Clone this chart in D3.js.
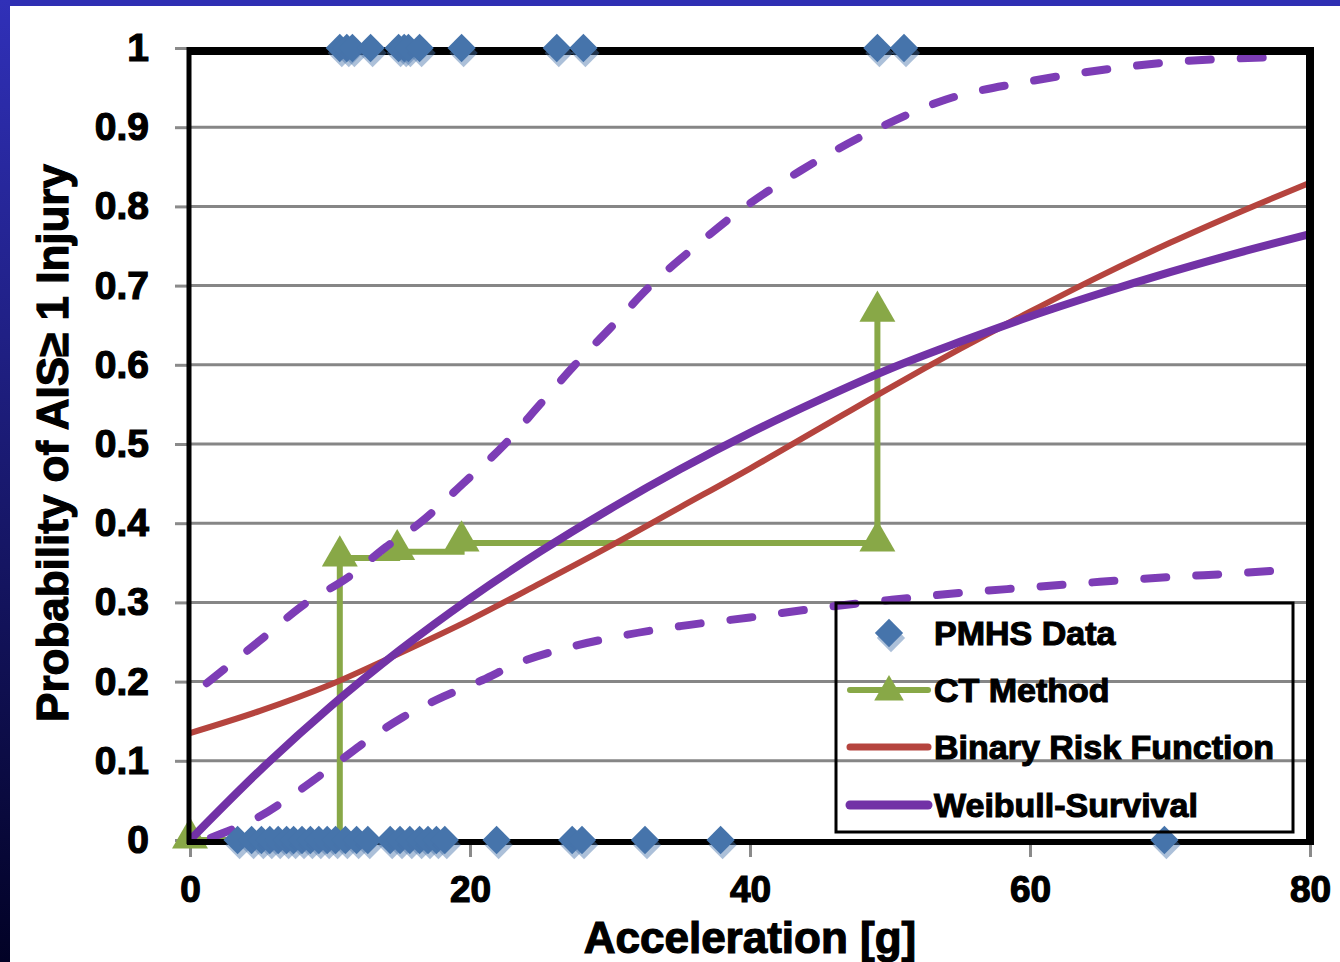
<!DOCTYPE html>
<html>
<head>
<meta charset="utf-8">
<script src="https://cdn.jsdelivr.net/npm/d3@7"></script>
<style>
  body { margin: 0; background: #fff; }
  #chart svg { display: block; }
  #chart text { font-family: "Liberation Sans", Arial, sans-serif; font-weight: bold; fill: #000; }
</style>
</head>
<body>
<div id="chart"></div>
<script>
let accelTicks = [0, 20, 40, 60, 80]
let probTicks = [0, 0.1, 0.2, 0.3, 0.4, 0.5, 0.6, 0.7, 0.8, 0.9, 1]

// PMHS tests: injured ones sit at 1, uninjured at 0
let pmhsInjured = [10.7, 11.2, 11.6, 12.9, 14.9, 15.3, 15.6, 16.4, 19.4, 26.2, 28.1, 49.1, 51.0]
let pmhsUninjured = [3.4, 4.4, 5.1, 5.7, 6.3, 6.9, 7.4, 8.0, 8.6, 9.2, 9.8, 10.4, 11.1, 11.9, 12.7,
  14.3, 15.0, 15.7, 16.4, 17.0, 17.6, 18.2, 21.9, 27.3, 28.0, 32.5, 37.9, 69.6]

// CT method (step curve)
let ctAccel = [0, 10.7, 14.8, 19.4, 49.1, 49.1]
let ctProb = [0, 0.356, 0.364, 0.375, 0.375, 0.665]

// fitted curves, read every 5 g
let fitAccel = [0, 5, 10, 15, 20, 25, 30, 35, 40, 45, 50, 55, 60, 65, 70, 75, 80]
let binaryProb = [0.135, 0.163, 0.196, 0.236, 0.278, 0.324, 0.371, 0.42, 0.469, 0.52, 0.571,
  0.62, 0.667, 0.712, 0.754, 0.793, 0.83]
let weibullProb = [0, 0.088, 0.168, 0.24, 0.305, 0.364, 0.418, 0.468, 0.514, 0.556, 0.595,
  0.629, 0.661, 0.69, 0.717, 0.742, 0.765]

// Weibull confidence bounds
let upperAccel = [1.2, 5, 8.2, 11.4, 14, 16.4, 19.5, 22.5, 25, 27.5, 30, 32.9, 36, 39.3, 43.6,
  49.3, 54, 60, 65, 70, 76.8]
let upperProb = [0.198, 0.252, 0.298, 0.333, 0.37, 0.4, 0.45, 0.5, 0.55, 0.6, 0.646, 0.7, 0.748,
  0.795, 0.845, 0.9, 0.935, 0.958, 0.972, 0.982, 0.988]
let lowerAccel = [1.5, 5, 8, 10.7, 13, 15.2, 17.6, 20.9, 23.4, 27, 30, 35, 40, 45, 50, 55, 60,
  65, 70, 75, 78.2]
let lowerProb = [0.003, 0.03, 0.065, 0.1, 0.13, 0.155, 0.177, 0.202, 0.223, 0.243, 0.255, 0.27,
  0.281, 0.293, 0.303, 0.312, 0.319, 0.326, 0.332, 0.337, 0.341]

let legendNames = ['PMHS Data', 'CT Method', 'Binary Risk Function', 'Weibull-Survival']

class RiskChart {
  constructor (container, width = 1340, height = 962) {
    this.container = container
    this.width = width
    this.height = height
    this.colors = {
      pmhs: '#4674ab',
      ct: '#88a847',
      binary: '#b5443e',
      weibull: '#7232a6',
      bound: '#7d3db6'
    }
    this.x = d3.scaleLinear().domain([0, 80]).range([190, 1310])
    this.y = d3.scaleLinear().domain([0, 1]).range([840, 48])
  }
  draw () {
    let container = d3.select(this.container)
    container.selectAll('svg').remove()
    this.svg = container.append('svg')
      .attr('width', this.width)
      .attr('height', this.height)
    this.drawBackground()
    this.drawGrid()
    this.drawCT()
    this.drawCurves()
    this.drawFrame()
    this.drawPoints()
    this.drawLegend()
    this.drawTitles()
  }
  drawBackground () {
    let svg = this.svg
    let grad = svg.append('defs').append('linearGradient')
      .attr('id', 'side').attr('x1', 0).attr('x2', 0).attr('y1', 0).attr('y2', 1)
    grad.append('stop').attr('offset', 0).attr('stop-color', '#3030b8')
    grad.append('stop').attr('offset', 1).attr('stop-color', '#020226')
    svg.append('rect').attr('width', this.width).attr('height', this.height).attr('fill', '#fff')
    svg.append('rect').attr('width', this.width).attr('height', 6).attr('fill', '#2f2fb3')
    svg.append('rect').attr('width', 10).attr('height', this.height).attr('fill', 'url(#side)')
  }
  drawGrid () {
    let x = this.x, y = this.y
    this.svg.append('g').selectAll('line')
      .data(probTicks.filter(d => d > 0 && d < 1))
      .enter().append('line')
      .attr('x1', x(0)).attr('x2', x(80))
      .attr('y1', d => y(d)).attr('y2', d => y(d))
      .attr('stroke', '#868686').attr('stroke-width', 3)

    let yAxis = d3.axisLeft(y).tickValues(probTicks).tickSize(14).tickPadding(26)
      .tickFormat(d3.format('.1~f'))
    let gy = this.svg.append('g').attr('transform', `translate(${x(0) - 1},0)`).call(yAxis)
    gy.select('.domain').remove()
    gy.selectAll('.tick line').attr('stroke', '#8a8a8a').attr('stroke-width', 3)
    gy.selectAll('.tick text').style('font-size', '39px').attr('stroke', '#000').attr('stroke-width', 1.2)

    let xAxis = d3.axisBottom(x).tickValues(accelTicks).tickSize(16).tickPadding(19)
    let gx = this.svg.append('g').attr('transform', `translate(0,${y(0) + 1})`).call(xAxis)
    gx.select('.domain').remove()
    gx.selectAll('.tick line').attr('stroke', '#8a8a8a').attr('stroke-width', 3)
    gx.selectAll('.tick text').style('font-size', '37px').attr('stroke', '#000').attr('stroke-width', 1.2)
  }
  drawCT () {
    let x = this.x, y = this.y
    let pts = ctAccel.map((a, i) => [a, ctProb[i]])
    let line = d3.line().x(d => x(d[0])).y(d => y(d[1])).curve(d3.curveStepAfter)
    this.svg.append('path').datum(pts)
      .attr('d', line)
      .attr('fill', 'none').attr('stroke', this.colors.ct).attr('stroke-width', 6)
    let tri = d3.symbol(d3.symbolTriangle, 560)
    this.svg.append('g').selectAll('path')
      .data(pts).enter().append('path')
      .attr('d', tri)
      .attr('transform', d => `translate(${x(d[0])},${y(d[1]) - 2})`)
      .attr('fill', this.colors.ct)
  }
  drawCurves () {
    let x = this.x, y = this.y
    let line = d3.line().x(d => x(d[0])).y(d => y(d[1])).curve(d3.curveMonotoneX)
    let svg = this.svg
    let self = this

    svg.append('path').datum(fitAccel.map((a, i) => [a, binaryProb[i]]))
      .attr('d', line).attr('fill', 'none')
      .attr('stroke', self.colors.binary).attr('stroke-width', 6)
    svg.append('path').datum(fitAccel.map((a, i) => [a, weibullProb[i]]))
      .attr('d', line).attr('fill', 'none')
      .attr('stroke', self.colors.weibull).attr('stroke-width', 8)

    let bounds = [upperAccel.map((a, i) => [a, upperProb[i]]), lowerAccel.map((a, i) => [a, lowerProb[i]])]
    svg.append('g').selectAll('path')
      .data(bounds).enter().append('path')
      .attr('d', line).attr('fill', 'none')
      .attr('stroke', self.colors.bound).attr('stroke-width', 8)
      .attr('stroke-linecap', 'round')
      .attr('stroke-dasharray', '22 30')
  }
  drawFrame () {
    let x = this.x, y = this.y
    let svg = this.svg
    // top and right borders of the plot area
    svg.append('path')
      .attr('d', `M${x(0)},${y(1) + 3}H${x(80)}V${y(0)}`)
      .attr('fill', 'none').attr('stroke', '#000').attr('stroke-width', 8)
    svg.append('line')
      .attr('x1', x(0) - 1).attr('x2', x(0) - 1).attr('y1', y(1) - 1).attr('y2', y(0) + 4)
      .attr('stroke', '#000').attr('stroke-width', 5)
    svg.append('line')
      .attr('x1', x(0) - 3).attr('x2', x(80) + 4).attr('y1', y(0) + 2).attr('y2', y(0) + 2)
      .attr('stroke', '#000').attr('stroke-width', 6)
  }
  diamond (g, cx, cy) {
    let d = d3.symbol(d3.symbolSquare, 400)
    g.append('path').attr('d', d)
      .attr('transform', `translate(${cx + 2},${cy + 5}) rotate(45)`)
      .attr('fill', this.colors.pmhs).attr('opacity', 0.45)
    g.append('path').attr('d', d)
      .attr('transform', `translate(${cx},${cy}) rotate(45)`)
      .attr('fill', this.colors.pmhs)
  }
  drawPoints () {
    let x = this.x, y = this.y
    let g = this.svg.append('g')
    pmhsUninjured.forEach(a => this.diamond(g, x(a), y(0)))
    pmhsInjured.forEach(a => this.diamond(g, x(a), y(1)))
  }
  drawLegend () {
    let svg = this.svg
    let lg = svg.append('g')
    lg.append('rect')
      .attr('x', 836).attr('y', 603).attr('width', 457).attr('height', 229)
      .attr('fill', 'none').attr('stroke', '#000').attr('stroke-width', 3)
    let rows = [633, 690, 747, 805]
    let sx = 850, ex = 928, mx = 889
    this.diamond(lg, mx, rows[0])
    lg.append('line').attr('x1', sx).attr('x2', ex).attr('y1', rows[1]).attr('y2', rows[1])
      .attr('stroke', this.colors.ct).attr('stroke-width', 6).attr('stroke-linecap', 'round')
    lg.append('path').attr('d', d3.symbol(d3.symbolTriangle, 380))
      .attr('transform', `translate(${mx},${rows[1] + 2})`).attr('fill', this.colors.ct)
    lg.append('line').attr('x1', sx).attr('x2', ex).attr('y1', rows[2]).attr('y2', rows[2])
      .attr('stroke', this.colors.binary).attr('stroke-width', 7).attr('stroke-linecap', 'round')
    lg.append('line').attr('x1', sx).attr('x2', ex).attr('y1', rows[3]).attr('y2', rows[3])
      .attr('stroke', this.colors.weibull).attr('stroke-width', 9).attr('stroke-linecap', 'round')
    lg.selectAll('text.name')
      .data(legendNames).enter().append('text')
      .attr('class', 'name')
      .attr('x', 934).attr('y', (d, i) => rows[i] + 12)
      .style('font-size', '34px').attr('stroke', '#000').attr('stroke-width', 1.1)
      .text(d => d)
  }
  drawTitles () {
    let svg = this.svg
    svg.append('text')
      .attr('x', 750).attr('y', 953).attr('text-anchor', 'middle')
      .style('font-size', '44px').attr('stroke', '#000').attr('stroke-width', 1.2)
      .text('Acceleration [g]')
    svg.append('text')
      .attr('transform', 'translate(68,443) rotate(-90)').attr('text-anchor', 'middle')
      .style('font-size', '44px').attr('stroke', '#000').attr('stroke-width', 1.2)
      .text('Probability of AIS\u2265 1 Injury')
  }
}

let chart = new RiskChart('#chart')
chart.draw()
</script>
</body>
</html>
